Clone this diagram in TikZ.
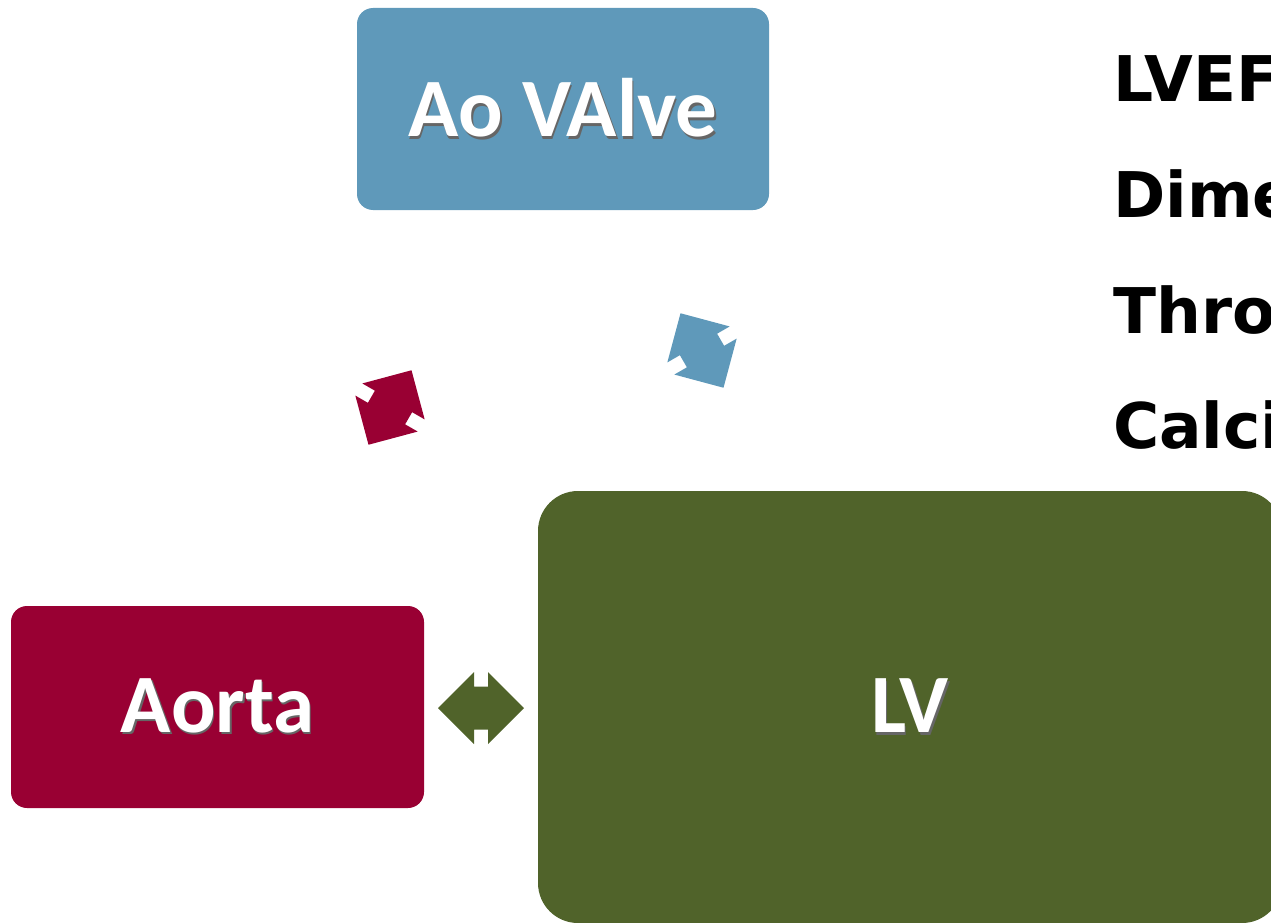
\documentclass[tikz,border=0pt]{standalone}
\usepackage{fontspec}
\setmainfont{Carlito}
\newfontfamily\findingfont{DejaVu Sans}

\definecolor{valveblue}{HTML}{5F99BA}
\definecolor{aortared}{HTML}{990033}
\definecolor{lvgreen}{HTML}{50632A}
\newcommand{\shadowed}[1]{\makebox[0pt][l]{\hspace{1.5pt}\raisebox{-2.5pt}{\color{black!60}#1}}#1}

\begin{document}
\begin{tikzpicture}[x=1pt,y=-1pt,
	part/.style={rectangle,rounded corners=16pt,text=white,inner sep=0pt,
		font=\fontsize{83}{90}\selectfont\bfseries},
	link/.pic={
		\fill[pic actions] (-43,0) -- (-7,-36) -- (-7,-21.5) -- (7,-21.5) -- (7,-36) -- (43,0)
			-- (7,36) -- (7,21.5) -- (-7,21.5) -- (-7,36) -- cycle;
	},
	finding/.style={anchor=base west,inner sep=0pt,
		font=\findingfont\fontsize{63}{70}\selectfont\bfseries}]
	\useasboundingbox (0,0) rectangle (1271,923);
	\clip (0,0) rectangle (1271,923);
	\node[part,fill=valveblue,minimum width=412pt,minimum height=202pt] (valve) at (563,109) {\shadowed{Ao VAlve}};
	\node[part,fill=aortared,minimum width=413pt,minimum height=202pt] (aorta) at (217.5,707) {\shadowed{Aorta}};
	\node[part,fill=lvgreen,rounded corners=40pt,minimum width=744pt,minimum height=432pt] (lv) at (910,707) {\shadowed{LV}};
	\pic[fill=lvgreen] (aortalv) at (481,708) {link};
	\pic[fill=valveblue,rotate=-60] (valvelv) at (702,350.5) {link};
	\pic[fill=aortared,rotate=60] (aortavalve) at (390,407.5) {link};
	\node[finding] (lvef) at (1113,102) {LVEF};
	\node[finding] (dim) at (1113,217) {Dime};
	\node[finding] (thro) at (1113,333) {Thro};
	\node[finding] (calci) at (1113,448) {Calci};
\end{tikzpicture}
\end{document}
